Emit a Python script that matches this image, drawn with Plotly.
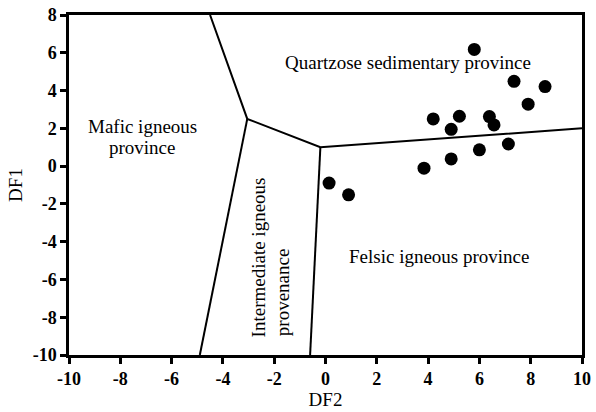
import plotly.graph_objects as go

# Sample points (DF2, DF1)
df2_pts = [5.8, 7.35, 8.56, 7.9, 4.2, 5.22, 4.9, 6.39, 6.57, 7.13, 6.0, 4.9, 3.84, 0.14, 0.9]
df1_pts = [6.18, 4.49, 4.21, 3.28, 2.5, 2.64, 1.95, 2.62, 2.18, 1.17, 0.86, 0.38, -0.11, -0.9, -1.52]

# Field boundaries
b1_x = [-4.5, -3.05, -0.2, 10.0]
b1_y = [8.0, 2.5, 1.0, 2.0]
b2_x = [-3.05, -4.9]
b2_y = [2.5, -10.0]
b3_x = [-0.2, -0.6]
b3_y = [1.0, -10.0]

x_ticks = [-10, -8, -6, -4, -2, 0, 2, 4, 6, 8, 10]
x_labels = ["-10", "-8", "-6", "-4", "-2", "0", "2", "4", "6", "8", "10"]
y_ticks = [-10, -8, -6, -4, -2, 0, 2, 4, 6, 8]
y_labels = ["-10", "-8", "-6", "-4", "-2", "0", "2", "4", "6", "8"]

font_family = "Liberation Serif"

fig = go.Figure()
for bx, by in [(b1_x, b1_y), (b2_x, b2_y), (b3_x, b3_y)]:
    fig.add_trace(go.Scatter(x=bx, y=by, mode="lines",
                             line=dict(color="black", width=2),
                             showlegend=False, hoverinfo="skip"))
fig.add_trace(go.Scatter(x=df2_pts, y=df1_pts, mode="markers",
                         marker=dict(color="black", size=13),
                         showlegend=False))

ann_font = dict(family=font_family, size=19, color="black")
fig.add_annotation(x=3.22, y=5.46, text="Quartzose sedimentary province",
                   showarrow=False, font=ann_font)
fig.add_annotation(x=-7.15, y=2.08, text="Mafic igneous",
                   showarrow=False, font=ann_font)
fig.add_annotation(x=-7.15, y=0.97, text="province",
                   showarrow=False, font=ann_font)
fig.add_annotation(x=4.43, y=-4.8, text="Felsic igneous province",
                   showarrow=False, font=ann_font)
fig.add_annotation(x=-2.63, y=-4.83, text="Intermediate igneous",
                   showarrow=False, font=ann_font, textangle=-90)
fig.add_annotation(x=-1.70, y=-6.68, text="provenance",
                   showarrow=False, font=ann_font, textangle=-90)

axis_common = dict(showgrid=False, zeroline=False, showline=True, linecolor="black",
                   linewidth=2.5, mirror=True, ticks="outside", ticklen=6, tickwidth=2.5,
                   tickcolor="black", automargin=False,
                   tickfont=dict(family=font_family, size=18, color="black", weight="bold"),
                   title_font=dict(family=font_family, size=19, color="black"))

fig.update_xaxes(range=[-10, 10], tickvals=x_ticks, ticktext=x_labels,
                 title_text="DF2", title_standoff=4, **axis_common)
fig.update_yaxes(range=[-10, 8], tickvals=y_ticks, ticktext=y_labels,
                 title_text="DF1", title_standoff=6, **axis_common)

fig.update_layout(width=596, height=412, margin=dict(l=69, r=14, t=15, b=57),
                  plot_bgcolor="white", paper_bgcolor="white")

fig.write_html("out.html")
